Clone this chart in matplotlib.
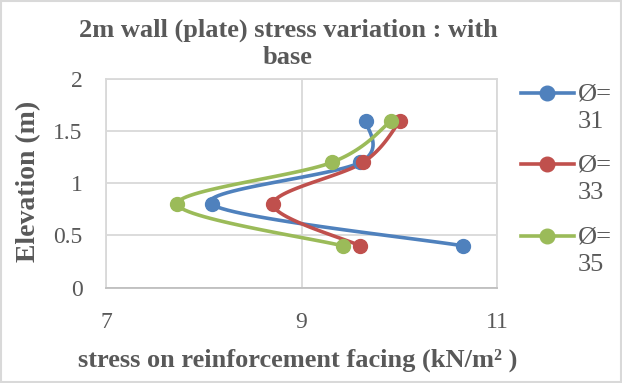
import numpy as np
import matplotlib
matplotlib.use("Agg")
import matplotlib.pyplot as plt
from matplotlib.lines import Line2D
from matplotlib.patches import Rectangle

# ---- data ----
elevation = [1.6, 1.2, 0.8, 0.4]
stress_31 = [9.66, 9.60, 8.08, 10.65]
stress_33 = [10.01, 9.63, 8.71, 9.60]
stress_35 = [9.92, 9.31, 7.73, 9.42]
series_names = [("Ø=", "31"), ("Ø=", "33"), ("Ø=", "35")]
series_colors = ["#4F81BD", "#C0504D", "#9BBB59"]
title_lines = ["2m wall (plate) stress variation : with", "base"]
xlabel = "stress on reinforcement facing (kN/m² )"
ylabel = "Elevation (m)"
xticks = [7, 9, 11]
yticks = [0, 0.5, 1, 1.5, 2]
ytick_labels = ["0", "0.5", "1", "1.5", "2"]

TXT = "#595959"
GRID = "#D9D9D9"
plt.rcParams["font.family"] = ["Liberation Serif", "DejaVu Serif"]

W, H = 622, 383


def fx(px):
    return px / W


def fy(py):
    return 1 - py / H


def smooth(xs, ys, n=30):
    """Bezier curve through the points (Excel-like smoothed line)."""
    P = np.column_stack([xs, ys]).astype(float)
    P = np.vstack([P[0], P, P[-1]])
    out = []
    for i in range(1, len(P) - 2):
        p0, p1, p2, p3 = P[i - 1], P[i], P[i + 1], P[i + 2]
        c1 = p1 + (p2 - p0) / 6.0
        c2 = p2 - (p3 - p1) / 6.0
        t = np.linspace(0, 1, n)[:, None]
        seg = ((1 - t) ** 3) * p1 + 3 * ((1 - t) ** 2) * t * c1 + 3 * (1 - t) * t ** 2 * c2 + t ** 3 * p2
        out.append(seg if i == 1 else seg[1:])
    out = np.vstack(out)
    return out[:, 0], out[:, 1]


fig = plt.figure(figsize=(W / 100, H / 100), dpi=100)
fig.patches.append(Rectangle((0.002, 0.003), 0.996, 0.994, transform=fig.transFigure,
                             fill=False, edgecolor=GRID, linewidth=1.5))
ax = fig.add_axes([fx(106), fy(287.5), (497 - 106) / W, (287.5 - 79) / H])

for s, c in zip([stress_31, stress_33, stress_35], series_colors):
    sx, sy = smooth(s, elevation)
    ax.plot(sx, sy, color=c, linewidth=2.6, solid_capstyle="round", zorder=3)
    ax.plot(s, elevation, linestyle="none", marker="o", markersize=10,
            color=c, markeredgecolor=c, zorder=4)

ax.set_xlim(7, 11)
ax.set_ylim(0, 2)
ax.set_xticks(xticks)
ax.set_yticks(yticks)
ax.set_xticklabels([str(v) for v in xticks])
ax.set_yticklabels(ytick_labels)
ax.tick_params(length=0, labelsize=17, labelcolor=TXT)
ax.tick_params(axis="x", pad=18)
ax.tick_params(axis="y", pad=17)
ax.grid(True, color=GRID, linewidth=1.3)
ax.set_axisbelow(True)
for side in ["top", "right", "left"]:
    ax.spines[side].set_color(GRID)
    ax.spines[side].set_linewidth(1.3)
ax.spines["bottom"].set_color("#BFBFBF")
ax.spines["bottom"].set_linewidth(1.3)

fig.text(fx(288), fy(30), title_lines[0], ha="center", va="center", fontsize=19,
         fontweight="bold", color=TXT)
fig.text(fx(288), fy(57), title_lines[1], ha="center", va="center", fontsize=19,
         fontweight="bold", color=TXT)
fig.text(fx(298), fy(360), xlabel, ha="center", va="center", fontsize=19,
         fontweight="bold", color=TXT)
fig.text(fx(28.5), fy(181.5), ylabel, ha="center", va="center", fontsize=20,
         fontweight="bold", color=TXT, rotation=90)

# legend
leg_line_y = [92.7, 164.3, 235.7]
leg_num_y = [121.7, 193, 265]
for y1, y2, c, (l1, l2) in zip(leg_line_y, leg_num_y, series_colors, series_names):
    fig.add_artist(Line2D([fx(521), fx(574)], [fy(y1), fy(y1)], transform=fig.transFigure,
                          color=c, linewidth=2.6))
    fig.add_artist(Line2D([fx(547)], [fy(y1)], transform=fig.transFigure, color=c,
                          marker="o", markersize=10.5, linestyle="none"))
    fig.text(fx(578), fy(y1 + 1.5), l1, ha="left", va="center", fontsize=19, color=TXT)
    fig.text(fx(578), fy(y2), l2, ha="left", va="center", fontsize=19, color=TXT)

fig.savefig("out.png", dpi=100)
